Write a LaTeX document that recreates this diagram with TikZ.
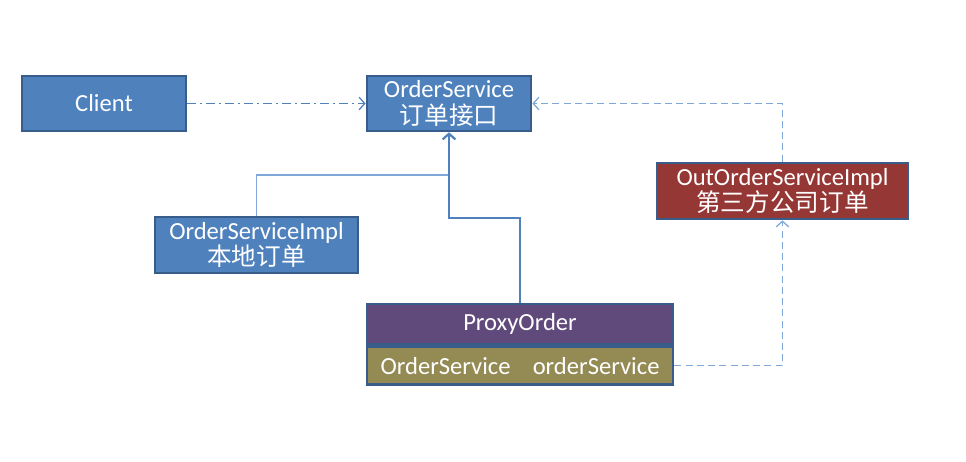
\documentclass[tikz,border=0pt]{standalone}
\usepackage{fontspec}
\setmainfont{Carlito}
\newfontfamily\cjk{Noto Sans CJK SC}
\usetikzlibrary{arrows.meta}

\definecolor{boxblue}{HTML}{4F81BD}
\definecolor{boxedge}{HTML}{385D8A}
\definecolor{boxred}{HTML}{953735}
\definecolor{boxpurple}{HTML}{604A7B}
\definecolor{boxolive}{HTML}{948A54}
\definecolor{linelight}{HTML}{7FA7D9}

\begin{document}
\begin{tikzpicture}[x=0.025cm, y=-0.025cm, >={Straight Barb[length=4pt,width=9pt]},
  cls/.style={draw=boxedge, line width=2pt, fill=boxblue, text=white, align=center,
    inner sep=0pt, font=\fontsize{17.5}{20}\selectfont},
  link/.style={->, linelight, line width=0.9pt}]
  \useasboundingbox (0,0) rectangle (966,461);

  % classes
  \node[cls, minimum width=4.1cm, minimum height=1.375cm] (client) at (104,103.5) {Client};
  \node[cls, minimum width=4.1cm, minimum height=1.375cm] (iface) at (449,103.5)
    {OrderService\\[-1pt]{\cjk 订单接口}};
  \node[cls, minimum width=5.075cm, minimum height=1.4cm] (local) at (256.5,245)
    {OrderServiceImpl\\[-1pt]{\cjk 本地订单}};
  \node[cls, fill=boxred, minimum width=6.275cm, minimum height=1.4cm] (outer) at (782.5,191)
    {OutOrderServiceImpl\\[-1pt]{\cjk 第三方公司订单}};
  \node[cls, fill=boxpurple, minimum width=7.65cm, minimum height=1cm] (proxy) at (520,324) {ProxyOrder};
  \node[cls, fill=boxolive, minimum width=7.65cm, minimum height=0.95cm, anchor=north] (field) at (proxy.south)
    {OrderService\hspace{0.9em}orderService};

  % connectors
  \draw[link, boxblue, dash pattern=on 6pt off 3pt on 1.5pt off 3pt] (client) -- (iface);
  \draw[link] (local.north) |- (449,175) -- (iface.south);
  \draw[link, boxblue, line width=1.5pt] (proxy.north) |- (449,218) -- (iface.south);
  \draw[link, dash pattern=on 5pt off 3pt] (outer.north) |- (iface.east);
  \draw[link, dash pattern=on 5pt off 3pt] (field.east) -| (outer.south);
\end{tikzpicture}
\end{document}
